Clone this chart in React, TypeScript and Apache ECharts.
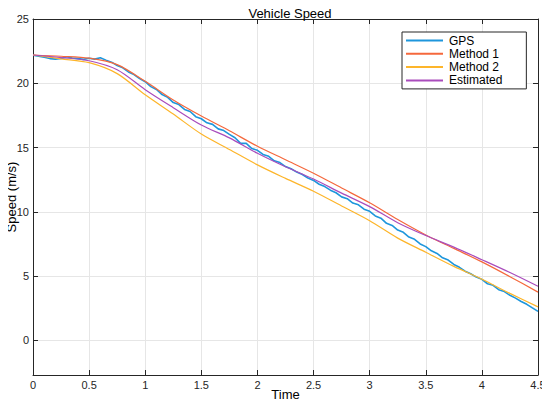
import React, { useEffect, useRef } from "react";
import * as echarts from "echarts";

const timeSmooth = [0, 0.25, 0.5, 0.75, 1, 1.25, 1.5, 1.75, 2, 2.25, 2.5, 2.75, 3, 3.25, 3.5, 3.75, 4, 4.25, 4.5];
const method1 = [22.2, 22.1, 21.95, 21.45, 20.15, 18.7, 17.45, 16.3, 15.1, 14.05, 13.0, 11.85, 10.7, 9.4, 8.2, 7.15, 6.1, 4.95, 3.75];
const method2 = [22.2, 21.9, 21.6, 20.75, 19.1, 17.6, 16.05, 14.85, 13.65, 12.6, 11.6, 10.45, 9.3, 7.95, 6.85, 5.75, 4.75, 3.65, 2.6];
const estimated = [22.2, 22.0, 21.75, 21.05, 19.5, 18.1, 16.75, 15.75, 14.55, 13.5, 12.55, 11.45, 10.4, 9.15, 8.15, 7.25, 6.27, 5.27, 4.2];

const timeGps = [
  0, 0.05, 0.1, 0.15, 0.2, 0.25, 0.3, 0.35, 0.4, 0.45, 0.5, 0.55, 0.6, 0.65, 0.7, 0.75, 0.8, 0.85, 0.9, 0.95,
  1, 1.05, 1.1, 1.15, 1.2, 1.25, 1.3, 1.35, 1.4, 1.45, 1.5, 1.55, 1.6, 1.65, 1.7, 1.75, 1.8, 1.85, 1.9, 1.95,
  2, 2.05, 2.1, 2.15, 2.2, 2.25, 2.3, 2.35, 2.4, 2.45, 2.5, 2.55, 2.6, 2.65, 2.7, 2.75, 2.8, 2.85, 2.9, 2.95,
  3, 3.05, 3.1, 3.15, 3.2, 3.25, 3.3, 3.35, 3.4, 3.45, 3.5, 3.55, 3.6, 3.65, 3.7, 3.75, 3.8, 3.85, 3.9, 3.95,
  4, 4.05, 4.1, 4.15, 4.2, 4.25, 4.3, 4.35, 4.4, 4.45, 4.5,
];
const gps = [
  22.18, 22.1, 22.02, 21.92, 21.88, 21.93, 22.06, 21.96, 21.92, 21.86, 21.95, 21.88, 21.98, 21.8, 21.64, 21.38, 21.2, 20.88, 20.68, 20.36,
  20.12, 19.74, 19.52, 19.12, 18.9, 18.5, 18.34, 17.96, 17.8, 17.4, 17.24, 16.92, 16.8, 16.45, 16.32, 16.02, 15.76, 15.32, 15.32, 14.92,
  14.78, 14.46, 14.32, 13.97, 13.83, 13.52, 13.35, 13.09, 12.9, 12.62, 12.44, 12.14, 11.96, 11.68, 11.48, 11.16, 11.02, 10.68, 10.54, 10.2,
  10.04, 9.68, 9.5, 9.1, 8.94, 8.58, 8.4, 8.03, 7.86, 7.5, 7.29, 6.96, 6.76, 6.42, 6.24, 5.9, 5.68, 5.38, 5.18, 4.92,
  4.74, 4.4, 4.28, 3.94, 3.79, 3.5, 3.28, 3.02, 2.8, 2.52, 2.25,
];

const yTicks = [0, 5, 10, 15, 20, 25];
const seriesNames = ["GPS", "Method 1", "Method 2", "Estimated"];
const colors = ["#1e96dc", "#f5683c", "#fdb52a", "#a94cbc"];

const FONT = "Liberation Sans, Arial, sans-serif";
const INK = "#262626";

export default function App() {
  const ref = useRef<HTMLDivElement>(null);
  useEffect(() => {
    if (!ref.current) return;
    const chart = echarts.init(ref.current, undefined, { renderer: "svg" });
    const pair = (xs: number[], ys: number[]) => xs.map((x, i) => [x, ys[i]]);
    const axisCommon = {
      type: "value" as const,
      nameMoveOverlap: false,
      axisLine: { show: true, onZero: false, lineStyle: { color: INK, width: 1 } },
      axisTick: { show: true, inside: true, length: 5, lineStyle: { color: INK } },
    };
    chart.setOption({
      animation: false,
      backgroundColor: "#ffffff",
      textStyle: { fontFamily: FONT },
      title: {
        text: "Vehicle Speed",
        left: 285,
        top: 2,
        textAlign: "center",
        textStyle: { fontSize: 13, fontWeight: "normal", color: "#000", fontFamily: FONT },
      },
      grid: { left: 33, right: 12, top: 19, bottom: 32, outerBoundsMode: "none" },
      legend: {
        orient: "vertical",
        left: 402,
        top: 32,
        padding: [2, 24, 2, 4],
        itemWidth: 37,
        itemHeight: 2,
        itemGap: 0.3,
        icon: "rect",
        backgroundColor: "#ffffff",
        borderColor: INK,
        borderWidth: 1,
        borderRadius: 0,
        textStyle: { fontSize: 12, color: "#000", fontFamily: FONT, lineHeight: 13, padding: [0, 0, 0, 1] },
        data: seriesNames,
      },
      xAxis: [
        {
          ...axisCommon,
          min: 0,
          max: 4.5,
          interval: 0.5,
          position: "bottom",
          name: "Time",
          nameLocation: "middle",
          nameGap: 13,
          nameTextStyle: { fontSize: 13, color: "#000", fontFamily: FONT, verticalAlign: "top" },
          axisLabel: { color: INK, fontSize: 11, margin: 4, fontFamily: FONT },
          splitLine: { show: true, lineStyle: { color: "#e6e6e6", width: 1 } },
        },
        {
          ...axisCommon,
          min: 0,
          max: 4.5,
          interval: 0.5,
          position: "top",
          axisLabel: { show: false },
          splitLine: { show: false },
        },
      ],
      yAxis: [
        {
          ...axisCommon,
          min: -2.7,
          max: 25,
          position: "left",
          name: "Speed (m/s)",
          nameLocation: "middle",
          nameGap: 15,
          nameTextStyle: { fontSize: 13, color: "#000", fontFamily: FONT },
          axisTick: { show: true, inside: true, length: 5, lineStyle: { color: INK }, customValues: yTicks },
          axisLabel: { color: INK, fontSize: 11, margin: 4, fontFamily: FONT, customValues: yTicks },
          splitLine: { show: false },
        },
        {
          ...axisCommon,
          min: -2.7,
          max: 25,
          position: "right",
          axisTick: { show: true, inside: true, length: 5, lineStyle: { color: INK }, customValues: yTicks },
          axisLabel: { show: false, customValues: yTicks },
          splitLine: { show: false },
        },
      ],
      series: [
        {
          name: "GPS",
          type: "line",
          data: pair(timeGps, gps),
          showSymbol: false,
          symbol: "none",
          lineStyle: { color: colors[0], width: 1.6 },
          itemStyle: { color: colors[0] },
          markLine: {
            silent: true,
            symbol: "none",
            label: { show: false },
            lineStyle: { color: "#e6e6e6", width: 1, type: "solid" },
            data: yTicks.map((v) => ({ yAxis: v })),
            z: 0,
          },
          z: 2,
        },
        {
          name: "Method 1",
          type: "line",
          data: pair(timeSmooth, method1),
          smooth: 0.3,
          showSymbol: false,
          symbol: "none",
          lineStyle: { color: colors[1], width: 1.2 },
          itemStyle: { color: colors[1] },
          z: 3,
        },
        {
          name: "Method 2",
          type: "line",
          data: pair(timeSmooth, method2),
          smooth: 0.3,
          showSymbol: false,
          symbol: "none",
          lineStyle: { color: colors[2], width: 1.2 },
          itemStyle: { color: colors[2] },
          z: 3,
        },
        {
          name: "Estimated",
          type: "line",
          data: pair(timeSmooth, estimated),
          smooth: 0.3,
          showSymbol: false,
          symbol: "none",
          lineStyle: { color: colors[3], width: 1.2 },
          itemStyle: { color: colors[3] },
          z: 3,
        },
      ],
    });
    return () => chart.dispose();
  }, []);
  return <div ref={ref} style={{ width: 550, height: 407, margin: -8 }} />;
}
